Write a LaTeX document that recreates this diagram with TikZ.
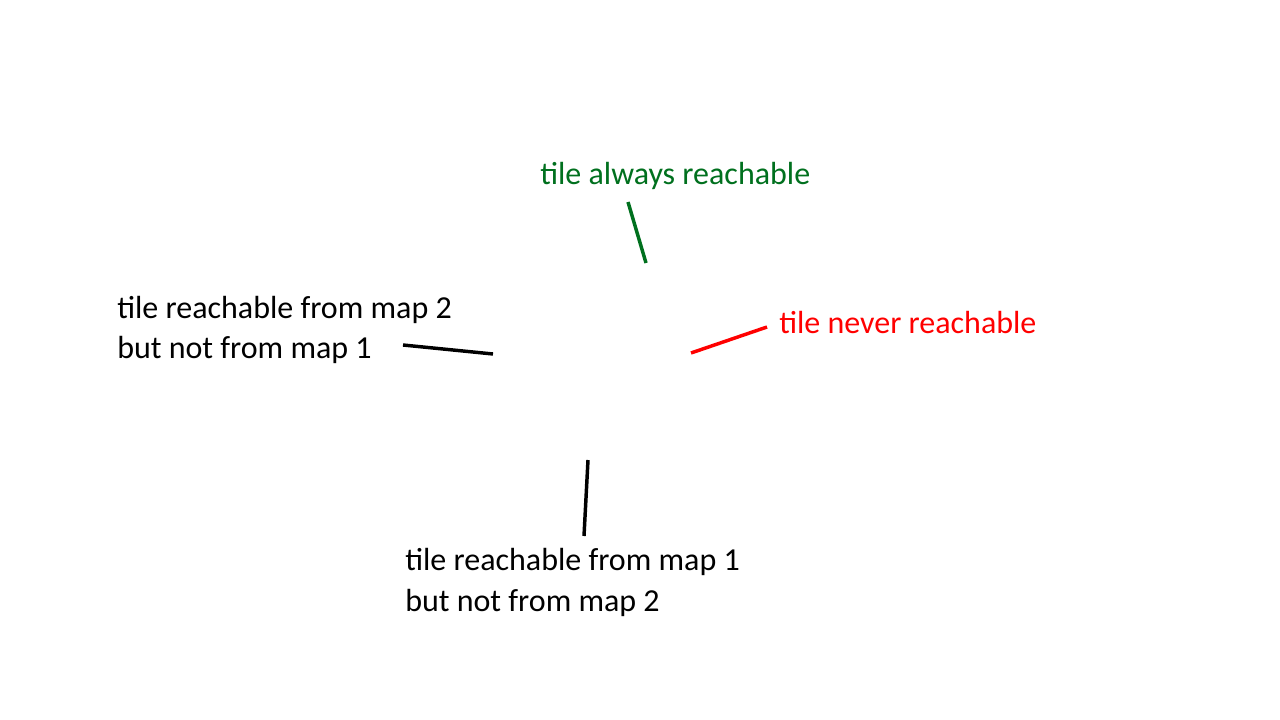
\documentclass[tikz,border=0pt]{standalone}
\usepackage{fontspec}
\setmainfont{Carlito}
\definecolor{lblgreen}{RGB}{0,112,30}
\definecolor{lblred}{RGB}{255,0,0}
\begin{document}
\begin{tikzpicture}[x=0.75pt,y=-0.75pt,
  lbl/.style={inner sep=0pt,anchor=base west,font=\fontsize{24}{30}\selectfont,align=left},
  ptr/.style={line width=2.6pt}]
\useasboundingbox[fill=white] (0,0) rectangle (1280,720);
\node[lbl,text=lblgreen] (always) at (540,185) {tile always reachable};
\node[lbl,text=lblred] (never) at (779,333) {tile never reachable};
\node[lbl] (map2a) at (117,318) {tile reachable from map 2};
\node[lbl] (map2b) at (117,358) {but not from map 1};
\node[lbl] (map1a) at (405,570) {tile reachable from map 1};
\node[lbl] (map1b) at (405,611) {but not from map 2};
\coordinate (ga) at (628,202); \coordinate (gb) at (646,263);
\coordinate (ra) at (767,327); \coordinate (rb) at (691,353);
\coordinate (la) at (403,345); \coordinate (lb) at (493,354);
\coordinate (ba) at (588,460); \coordinate (bb) at (584,536);
\draw[ptr,lblgreen] (ga) -- (gb);
\draw[ptr,lblred] (ra) -- (rb);
\draw[ptr] (la) -- (lb);
\draw[ptr] (ba) -- (bb);
\end{tikzpicture}
\end{document}
